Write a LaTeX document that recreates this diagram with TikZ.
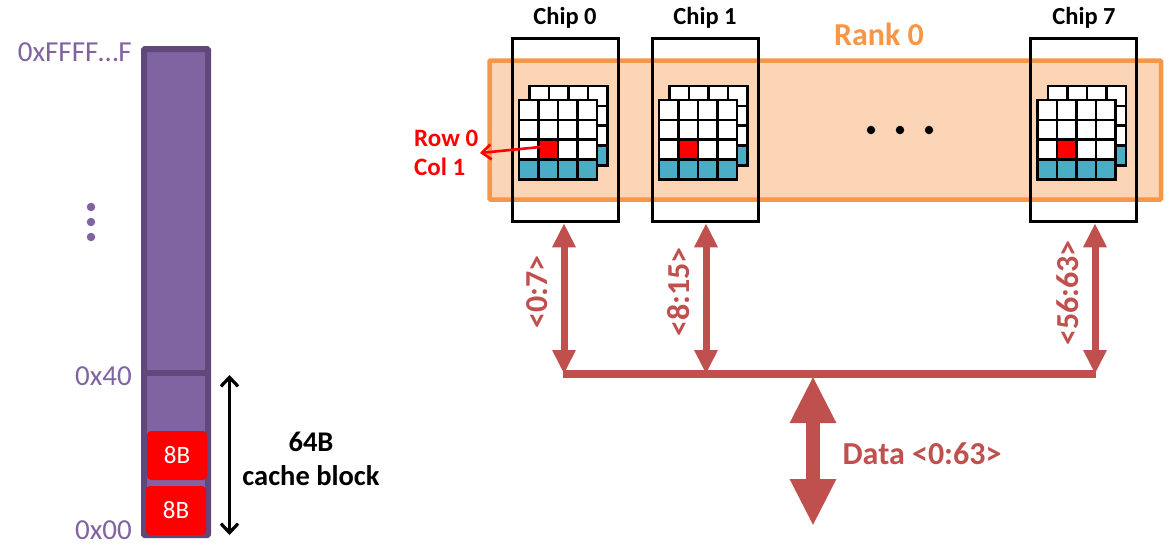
\documentclass[tikz,border=0pt]{standalone}
\usepackage{fontspec}
\setmainfont{Carlito}
\usetikzlibrary{arrows.meta}
\definecolor{purpf}{HTML}{8064A2}
\definecolor{purpd}{HTML}{5F497A}
\definecolor{rankf}{HTML}{FBD5B5}
\definecolor{rankd}{HTML}{F79646}
\definecolor{busc}{HTML}{C0504D}
\definecolor{teal}{HTML}{4BACC6}
\tikzset{
  x=1pt,y=-1pt,
  chipbox/.style={draw=black,line width=3pt,minimum width=106pt,minimum height=183.5pt,inner sep=0pt},
  chiplabel/.style={font=\bfseries\fontsize{24.5}{26}\selectfont,inner sep=0pt},
  addr/.style={font=\fontsize{29}{31}\selectfont,text=purpf,inner sep=0pt,anchor=east},
  bytebox/.style={fill=red,rounded corners=4pt,minimum width=60pt,minimum height=49pt,inner sep=0pt,text=white,font=\fontsize{25}{27}\selectfont},
  blacklabel/.style={font=\bfseries\fontsize{28.5}{30}\selectfont,inner sep=0pt},
  buslabel/.style={font=\bfseries\fontsize{32}{34}\selectfont,text=busc,inner sep=0pt},
  redlabel/.style={font=\bfseries\fontsize{25}{27}\selectfont,text=red,inner sep=0pt,anchor=west},
  thinbus/.style={draw=busc,line width=7pt,{Triangle[length=24pt,width=22pt]}-{Triangle[length=24pt,width=22pt]}},
  bigbus/.style={draw=busc,line width=14pt,{Triangle[length=47pt,width=43pt]}-{Triangle[length=47pt,width=43pt]}},
  dotmark/.style={circle,fill=#1,minimum size=8.5pt,inner sep=0pt},
}
\newcommand{\cellgrid}[3]{% x, y, colour of bottom row
  \foreach \c in {0,1,2,3}{
    \foreach \r in {0,1,2}{
      \draw[black,line width=2.6pt,fill=white] ({#1+\c*19.5},{#2+\r*19.8}) rectangle ++(19.5,19.8);
    }
    \draw[black,line width=2.6pt,fill=#3] ({#1+\c*19.5},{#2+3*19.8}) rectangle ++(19.5,19.8);
  }
}
\newcommand{\chipgrid}[1]{%
  \cellgrid{#1+10.5}{86}{teal}
  \cellgrid{#1}{100}{teal}
  \draw[black,line width=2.6pt,fill=red] ({#1+19.5},{100+2*19.8}) rectangle ++(19.5,19.8);
}
\begin{document}
\begin{tikzpicture}
\useasboundingbox (0,0) rectangle (1171,542);
% memory column
\draw[draw=purpd,fill=purpf,line width=6pt,rounded corners=1pt] (144,49) rectangle (208,535);
\coordinate (divl) at (147,373);
\coordinate (divr) at (205,373);
\draw[purpd,line width=6pt] (divl) -- (divr);
\node[bytebox] (b1) at (177,455.5) {8B};
\node[bytebox] (b0) at (176,510.5) {8B};
\node[addr] (aF) at (132,52) {0xFFFF…F};
\node[addr] (a4) at (132,376) {0x40};
\node[addr] (a0) at (132,530) {0x00};
\node[dotmark=purpf] (v1) at (91,207) {};
\node[dotmark=purpf] (v2) at (91,222) {};
\node[dotmark=purpf] (v3) at (91,237) {};
\coordinate (blocktop) at (229.5,375);
\coordinate (blockbot) at (229.5,535);
\draw[black,line width=3.2pt,{Straight Barb[length=9pt,width=17pt]}-{Straight Barb[length=9pt,width=17pt]}] (blocktop) -- (blockbot);
\node[blacklabel] (l64) at (311,442) {64B};
\node[blacklabel] (lcb) at (311,476) {cache block};
% rank
\draw[draw=rankd,fill=rankf,line width=4.5pt,rounded corners=1pt] (489.5,60.5) rectangle (1161,199.5);
\node[font=\bfseries\fontsize{32}{34}\selectfont,text=rankd,inner sep=0pt] (rank) at (879,34) {Rank 0};
% chips
\node[chipbox] (chip0) at (565,130) {};
\node[chipbox] (chip1) at (705.5,130) {};
\node[chipbox] (chip7) at (1083.5,130) {};
\node[chiplabel] (t0) at (565,18) {Chip 0};
\node[chiplabel] (t1) at (705,18) {Chip 1};
\node[chiplabel] (t7) at (1084,18) {Chip 7};
\chipgrid{519}
\chipgrid{659}
\chipgrid{1037.5}
\node[dotmark=black] (d1) at (871,130) {};
\node[dotmark=black] (d2) at (900,130) {};
\node[dotmark=black] (d3) at (929,130) {};
% red pointer
\node[redlabel] (row) at (414,138) {Row 0};
\node[redlabel] (col) at (414,167) {Col 1};
\coordinate (cellred) at (540,147);
\coordinate (redtip) at (480,153);
\draw[red,line width=2.6pt,-{Straight Barb[length=9pt,width=15pt]}] (cellred) -- (redtip);
% data bus
\coordinate (bus0) at (564,374);
\coordinate (bus1) at (706,374);
\coordinate (bus7) at (1095,374);
\coordinate (busmid) at (813,376);
\coordinate (busend) at (813,526);
\draw[busc,line width=8pt] ([xshift=-1pt]bus0) -- ([xshift=1pt]bus7);
\draw[thinbus] (bus0) -- (bus0 |- chip0.south);
\draw[thinbus] (bus1) -- (bus1 |- chip1.south);
\draw[thinbus] (bus7) -- (bus7 |- chip7.south);
\draw[bigbus] (busmid) -- (busend);
\node[buslabel,rotate=90] (l0) at (537,292) {<0:7>};
\node[buslabel,rotate=90] (l1) at (679,292) {<8:15>};
\node[buslabel,rotate=90] (l7) at (1068,293) {<56:63>};
\node[buslabel] (ld) at (922,454) {Data <0:63>};
\end{tikzpicture}
\end{document}
